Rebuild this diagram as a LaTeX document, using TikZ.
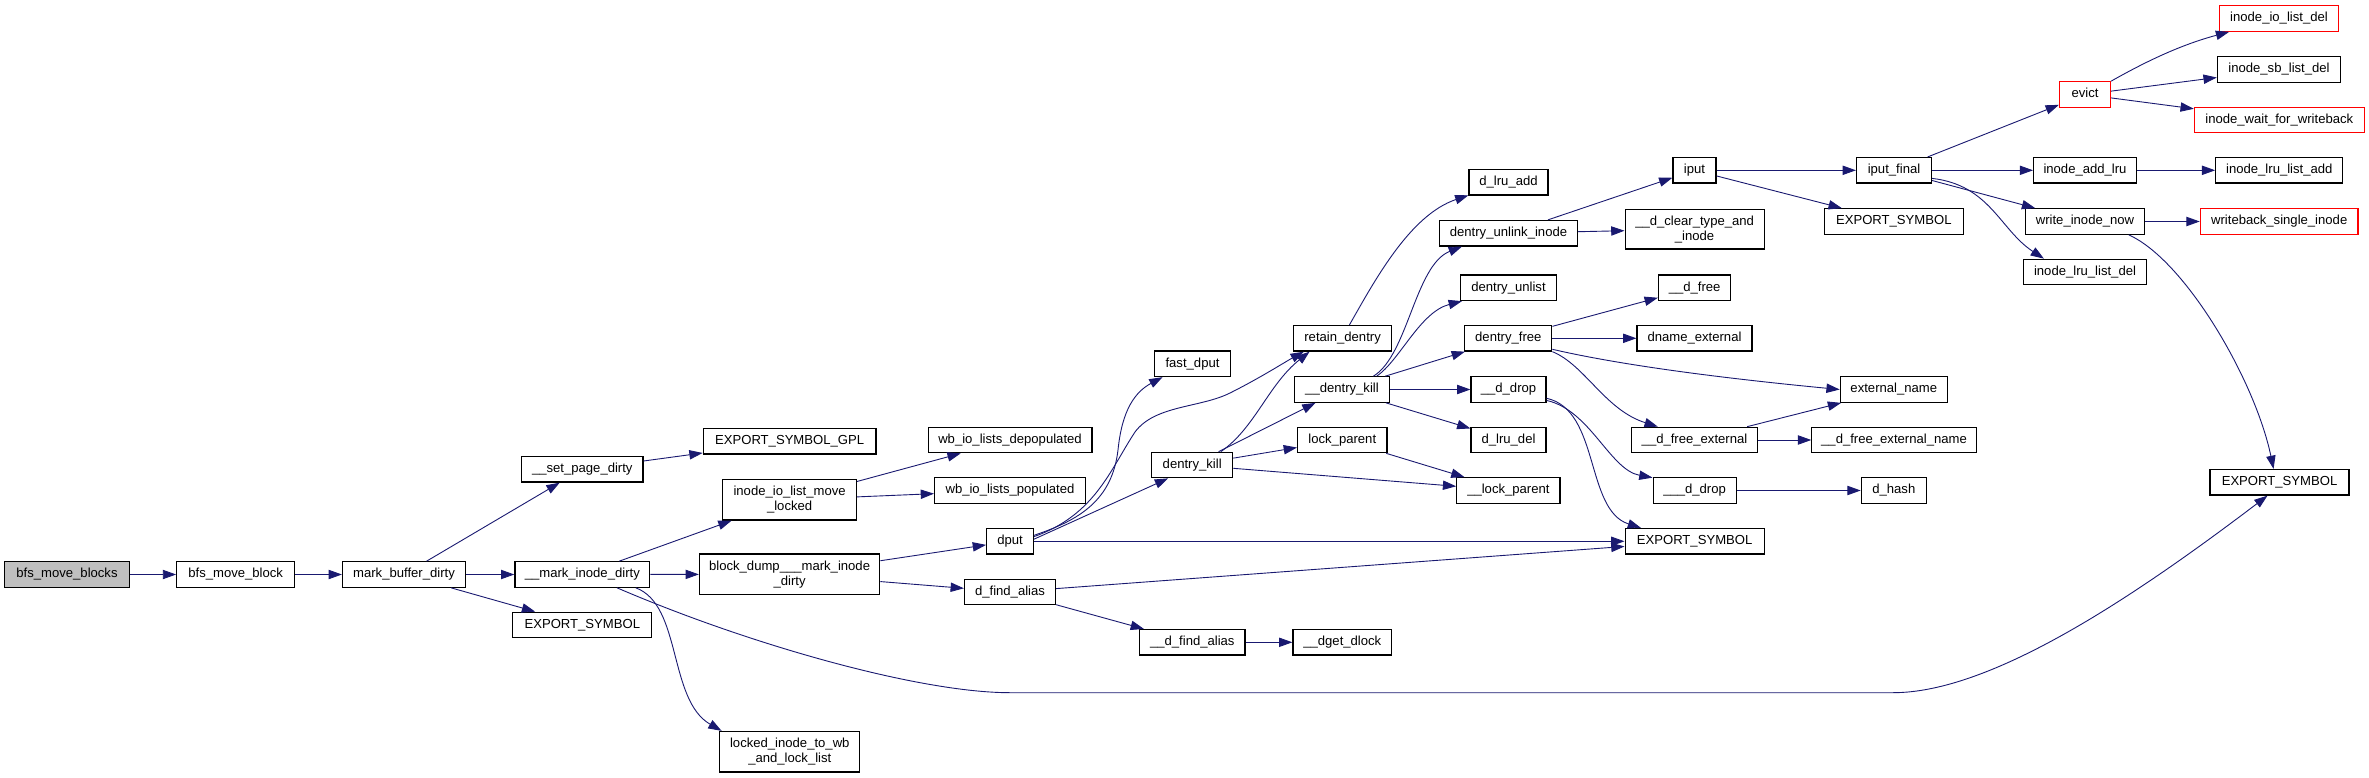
\documentclass[tikz,border=0pt]{standalone}
\usepackage{fontspec}
\setmainfont{Liberation Sans}
\usetikzlibrary{arrows.meta}
\definecolor{edgeblue}{HTML}{191970}
\definecolor{rootgray}{HTML}{BFBFBF}
\newcommand{\nfont}{\fontsize{13.1}{15}\selectfont}
\tikzset{
  fn/.style={draw=black, line width=1.2pt, rectangle, minimum height=25.5pt, inner sep=0pt, text height=9.5pt, text depth=2.7pt, font=\nfont},
  fntwo/.style={draw=black, line width=1.2pt, rectangle, minimum height=40.5pt, inner sep=0pt, align=center, font=\nfont},
  rootnode/.style={fill=rootgray},
  trunc/.style={draw=red},
  conn/.style={draw=edgeblue, line width=0.9pt, -{Triangle[length=13.3pt,width=9.3pt]}}
}
\begin{document}
\begin{tikzpicture}[x=1pt,y=-1pt]
\useasboundingbox (0,0) rectangle (2369,778);
% column 1-4
\node[fn,rootnode,minimum width=124.8pt] (bmbs) at (67,574.5) {bfs\_move\_blocks};
\node[fn,minimum width=118pt] (bmb) at (235.7,574.5) {bfs\_move\_block};
\node[fn,minimum width=123pt] (mbd) at (404,574.5) {mark\_buffer\_dirty};
\node[fn,minimum width=121.3pt] (spd) at (582.3,469.3) {\_\_set\_page\_dirty};
\node[fn,minimum width=134.8pt] (mid) at (582.3,574.5) {\_\_mark\_inode\_dirty};
\node[fn,minimum width=139pt] (es1) at (582.3,625) {EXPORT\_SYMBOL};
% column 5
\node[fn,minimum width=172.7pt] (gpl) at (789.6,441.2) {EXPORT\_SYMBOL\_GPL};
\node[fntwo,minimum width=133.6pt,minimum height=40.7pt] (iolm) at (789.6,499.7) {inode\_io\_list\_move\\\_locked};
\node[fntwo,minimum width=180.3pt] (bd) at (789.6,574.3) {block\_dump\_\_\_mark\_inode\\\_dirty};
\node[fntwo,minimum width=140pt] (locked) at (789.8,751.7) {locked\_inode\_to\_wb\\\_and\_lock\_list};
% column 6
\node[fn,minimum width=163.8pt] (depop) at (1010,440) {wb\_io\_lists\_depopulated};
\node[fn,minimum width=150.8pt] (pop) at (1010,490.5) {wb\_io\_lists\_populated};
\node[fn,minimum width=46.7pt] (dput) at (1010,541.3) {dput};
\node[fn,minimum width=91pt] (dfa) at (1010,592) {d\_find\_alias};
% column 7
\node[fn,minimum width=76.4pt] (fdput) at (1192.5,363.8) {fast\_dput};
\node[fn,minimum width=81pt] (dk) at (1192.2,465) {dentry\_kill};
\node[fn,minimum width=105.4pt] (udfa) at (1192.3,642.3) {\_\_d\_find\_alias};
% column 8
\node[fn,minimum width=97.6pt] (rd) at (1342.6,338.3) {retain\_dentry};
\node[fn,minimum width=94.5pt] (udk) at (1342,389.5) {\_\_dentry\_kill};
\node[fn,minimum width=89.4pt] (lp) at (1342.3,440) {lock\_parent};
\node[fn,minimum width=98.7pt] (dget) at (1342.3,642.3) {\_\_dget\_dlock};
% column 9
\node[fn,minimum width=79pt] (dla) at (1508.5,182.3) {d\_lru\_add};
\node[fn,minimum width=137.7pt] (dui) at (1508.5,233.2) {dentry\_unlink\_inode};
\node[fn,minimum width=96.5pt] (dul) at (1508.5,287.8) {dentry\_unlist};
\node[fn,minimum width=87pt] (df) at (1508.3,338.3) {dentry\_free};
\node[fn,minimum width=75pt] (udd) at (1508.5,389.5) {\_\_d\_drop};
\node[fn,minimum width=75pt] (dld) at (1508.5,440) {d\_lru\_del};
\node[fn,minimum width=103.2pt] (ulp) at (1508.4,490.5) {\_\_lock\_parent};
% column 10
\node[fn,minimum width=43pt] (iput) at (1694.5,170.3) {iput};
\node[fntwo,minimum width=139pt,minimum height=39.7pt] (dcti) at (1694.6,229.2) {\_\_d\_clear\_type\_and\\\_inode};
\node[fn,minimum width=72.3pt] (udf) at (1694.6,287.8) {\_\_d\_free};
\node[fn,minimum width=115pt] (dne) at (1694.5,338.3) {dname\_external};
\node[fn,minimum width=125.5pt] (udfe) at (1694.5,440) {\_\_d\_free\_external};
\node[fn,minimum width=83pt] (uuudd) at (1694.6,490.5) {\_\_\_d\_drop};
\node[fn,minimum width=139pt] (es2) at (1694.6,541.3) {EXPORT\_SYMBOL};
% column 11
\node[fn,minimum width=75pt] (ifin) at (1894,170.3) {iput\_final};
\node[fn,minimum width=139pt] (es3) at (1893.8,221.5) {EXPORT\_SYMBOL};
\node[fn,minimum width=107pt] (en) at (1893.8,389.5) {external\_name};
\node[fn,minimum width=164.3pt] (udfen) at (1894,440) {\_\_d\_free\_external\_name};
\node[fn,minimum width=65pt] (dh) at (1893.8,490.5) {d\_hash};
% column 12
\node[fn,trunc,minimum width=51pt] (ev) at (2085,94.5) {evict};
\node[fn,minimum width=102.7pt] (ial) at (2085,170.3) {inode\_add\_lru};
\node[fn,minimum width=119pt] (win) at (2085,221.5) {write\_inode\_now};
\node[fn,minimum width=123pt] (ild) at (2085,272) {inode\_lru\_list\_del};
% column 13
\node[fn,trunc,minimum width=119.2pt] (iold) at (2279,18.5) {inode\_io\_list\_del};
\node[fn,minimum width=123.3pt] (isld) at (2279,69.5) {inode\_sb\_list\_del};
\node[fn,trunc,minimum width=169.8pt] (iwfw) at (2279.3,120) {inode\_wait\_for\_writeback};
\node[fn,minimum width=127pt] (illa) at (2279.3,170.3) {inode\_lru\_list\_add};
\node[fn,trunc,minimum width=157.7pt] (wsi) at (2279.2,221.5) {writeback\_single\_inode};
\node[fn,minimum width=139pt] (es4) at (2279.5,482.3) {EXPORT\_SYMBOL};

% edges
\draw[conn] (bmbs) -- (bmb);
\draw[conn] (bmb) -- (mbd);
\draw[conn] (mbd) -- (spd);
\draw[conn] (mbd) -- (mid);
\draw[conn] (mbd) -- (es1);
\draw[conn] (spd) -- (gpl);
\draw[conn] (mid) -- (iolm);
\draw[conn] (mid) -- (bd);
\draw[conn] (mid.-14) .. controls (682,605) and (668,700) .. (locked.163);
\draw[conn] (mid.-21) .. controls (750,645) and (920,692.7) .. (1010,692.7) -- (1893,692.7) .. controls (1990,692.7) and (2130,600) .. (es4.-132);
\draw[conn] (iolm) -- (depop);
\draw[conn] (iolm) -- (pop);
\draw[conn] (bd) -- (dput);
\draw[conn] (bd) -- (dfa);
\draw[conn] (dput.14) .. controls (1080,520) and (1112,500) .. (1118,450) .. controls (1122,410) and (1135,392) .. (fdput.-156);
\draw[conn] (dput.11) .. controls (1095,515) and (1110,470) .. (1135,432) .. controls (1155,405) and (1200,408) .. (1230,393) .. controls (1260,378) and (1285,362) .. (rd.-161);
\draw[conn] (dput.5) -- (dk.-151);
\draw[conn] (dput) -- (es2);
\draw[conn] (dfa) -- (es2);
\draw[conn] (dfa) -- (udfa);
\draw[conn] (udfa) -- (dget);
\draw[conn] (dk.25) .. controls (1255,428) and (1268,385) .. (rd.-158);
\draw[conn] (dk) -- (udk);
\draw[conn] (dk) -- (lp);
\draw[conn] (dk) -- (ulp);
\draw[conn] (lp) -- (ulp);
\draw[conn] (rd.63) .. controls (1375,280) and (1410,215) .. (dla.-162);
\draw[conn] (udk.23) .. controls (1408,355) and (1415,265) .. (dui.-164);
\draw[conn] (udk.21) .. controls (1400,360) and (1420,312) .. (dul.-164);
\draw[conn] (udk) -- (df);
\draw[conn] (udk) -- (udd);
\draw[conn] (udk) -- (dld);
\draw[conn] (udd.-13) .. controls (1600,410) and (1585,510) .. (es2.166);
\draw[conn] (udd.-16) .. controls (1590,410) and (1610,470) .. (uuudd.163);
\draw[conn] (df) -- (udf);
\draw[conn] (df) -- (dne);
\draw[conn] (df.-14) .. controls (1620,365) and (1720,378) .. (en.west);
\draw[conn] (df.south east) .. controls (1585,365) and (1605,410) .. (udfe.160);
\draw[conn] (udfe) -- (en);
\draw[conn] (udfe) -- (udfen);
\draw[conn] (uuudd) -- (dh);
\draw[conn] (dui) -- (iput);
\draw[conn] (dui) -- (dcti);
\draw[conn] (iput) -- (ifin);
\draw[conn] (iput) -- (es3);
\draw[conn] (ifin) -- (ev);
\draw[conn] (ifin) -- (ial);
\draw[conn] (ifin) -- (win);
\draw[conn] (ifin.-12) .. controls (1990,185) and (2000,230) .. (ild.162);
\draw[conn] (ial) -- (illa);
\draw[conn] (win) -- (wsi);
\draw[conn] (win.-17) .. controls (2185,260) and (2255,380) .. (es4.114);
\draw[conn] (ev.north east) .. controls (2145,62) and (2180,45) .. (iold.-165);
\draw[conn] (ev) -- (isld);
\draw[conn] (ev) -- (iwfw);
\end{tikzpicture}
\end{document}
